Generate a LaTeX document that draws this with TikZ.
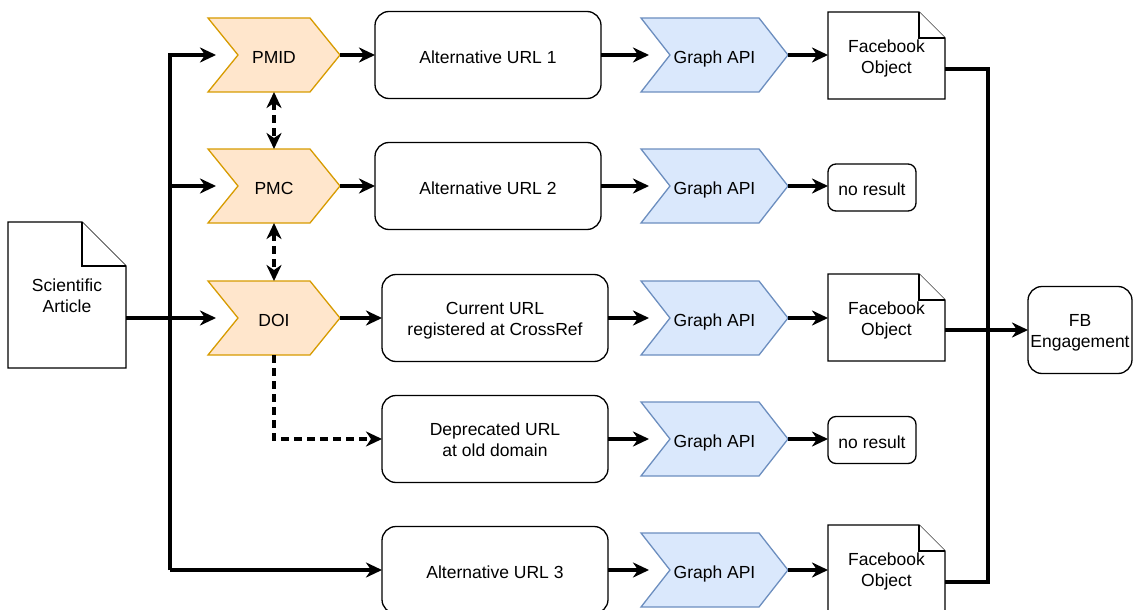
\documentclass[tikz,border=0pt]{standalone}
\usepackage{fontspec}
\setmainfont{Liberation Sans}
\usetikzlibrary{arrows.meta,backgrounds}
\definecolor{ofill}{HTML}{FFE6CC}
\definecolor{ostroke}{HTML}{D79B00}
\definecolor{bfill}{HTML}{DAE8FC}
\definecolor{bstroke}{HTML}{6C8EBF}
\newcommand{\fs}{\fontsize{17.5}{21}\selectfont}
\newcommand{\twolines}[2]{\raisebox{-4pt}[\dimexpr\height-2pt\relax][\depth]{\begin{tabular}{@{}c@{}}#1\\#2\end{tabular}}}
\newcommand{\chevfill}[3]{%
\begin{pgfonlayer}{background}
\draw[#3] (#1.north west) -- ([xshift=-#2pt]#1.north east) -- (#1.east) -- ([xshift=-#2pt]#1.south east) -- (#1.south west) -- ([xshift=#2pt]#1.west) -- cycle;
\end{pgfonlayer}}
\newcommand{\notefill}[2]{%
\begin{pgfonlayer}{background}
\draw[notest] (#1.north west) -- ([xshift=-#2pt]#1.north east) -- ([yshift=-#2pt]#1.north east) -- (#1.south east) -- (#1.south west) -- cycle;
\draw[notest] ([xshift=-#2pt]#1.north east) |- ([yshift=-#2pt]#1.north east);
\end{pgfonlayer}}
\begin{document}
\begin{tikzpicture}[x=1pt,y=-1pt,
  txt/.style={font=\fs, inner sep=0pt, outer sep=0pt,
    execute at begin node={\rule{0pt}{21pt}},
    execute at end node={\rule[-4.4pt]{0pt}{4.4pt}}},
  urlbox/.style={txt, draw, line width=1.3pt, rounded corners=14pt, minimum width=226pt, minimum height=87pt},
  smallbox/.style={txt, draw, line width=1.3pt, rounded corners=8pt, minimum width=88pt, minimum height=47pt},
  chevbox/.style={txt, minimum width=132pt, minimum height=74pt},
  apibox/.style={txt, minimum width=147pt, minimum height=74pt},
  notebox/.style={txt, minimum width=117pt, minimum height=87pt},
  notest/.style={draw=black, fill=white, line width=1.3pt, line join=miter},
  ochev/.style={draw=ostroke, fill=ofill, line width=1.3pt},
  bchev/.style={draw=bstroke, fill=bfill, line width=1.3pt},
  conn/.style={line width=3.3pt},
  arr/.style={conn, -{Stealth[length=16pt,width=15pt,inset=5pt]}},
  darr/.style={arr, dash pattern=on 8pt off 5pt},
  dbiarr/.style={conn, dash pattern=on 8pt off 5pt, {Stealth[length=16pt,width=15pt,inset=5pt]}-{Stealth[length=16pt,width=15pt,inset=5pt]}}
]
\useasboundingbox (0,0) rectangle (1136,610);

% Scientific article
\node[txt, minimum width=118pt, minimum height=146pt] (art) at (67,295) {\twolines{Scientific}{Article}};
\notefill{art}{44}

% identifiers
\node[chevbox] (pmid) at (274,55) {PMID};
\chevfill{pmid}{30}{ochev}
\node[chevbox] (pmc) at (274,186) {PMC};
\chevfill{pmc}{30}{ochev}
\node[chevbox] (doi) at (274,318) {DOI};
\chevfill{doi}{30}{ochev}

% URLs
\node[urlbox] (u1) at (488,55) {Alternative URL 1};
\node[urlbox] (u2) at (488,186) {Alternative URL 2};
\node[urlbox] (u3) at (495,318) {\twolines{Current URL}{registered at CrossRef}};
\node[urlbox] (u4) at (495,439) {\twolines{Deprecated URL}{at old domain}};
\node[urlbox] (u5) at (495,570) {Alternative URL 3};

% Graph API
\node[apibox] (g1) at (714.5,55) {Graph API};
\chevfill{g1}{29}{bchev}
\node[apibox] (g2) at (714.5,186) {Graph API};
\chevfill{g2}{29}{bchev}
\node[apibox] (g3) at (714.5,318) {Graph API};
\chevfill{g3}{29}{bchev}
\node[apibox] (g4) at (714.5,439) {Graph API};
\chevfill{g4}{29}{bchev}
\node[apibox] (g5) at (714.5,570) {Graph API};
\chevfill{g5}{29}{bchev}

% results
\node[notebox] (f1) at (886.5,55.5) {\twolines{Facebook}{Object}};
\notefill{f1}{26}
\node[smallbox] (n2) at (872,187.5) {no result};
\node[notebox] (f3) at (886.5,317.5) {\twolines{Facebook}{Object}};
\notefill{f3}{26}
\node[smallbox] (n4) at (872,440) {no result};
\node[notebox] (f5) at (886.5,568.5) {\twolines{Facebook}{Object}};
\notefill{f5}{26}

\node[txt, draw, line width=1.3pt, rounded corners=14pt, minimum width=104pt, minimum height=87pt] (fb) at (1080,330) {\twolines{FB}{Engagement}};

% trunk
\coordinate (t) at (170,318);
\coordinate (j) at (988,330);
\draw[arr] (art.east |- doi.west) -- ([xshift=8pt]doi.west);
\draw[arr, line join=miter] (t |- u5.west) |- ([xshift=8pt]pmid.west);
\draw[arr] (t |- u5.west) -- (u5.west);
\draw[arr] (t |- pmc.west) -- ([xshift=8pt]pmc.west);

% rows
\draw[arr] (pmid.east) -- (u1.west);
\draw[arr] (pmc.east) -- (u2.west);
\draw[arr] (doi.east) -- (u3.west);
\foreach \a/\b in {u1/g1,u2/g2,u3/g3,u4/g4,u5/g5}
  \draw[arr] (\a.east) -- ([xshift=8pt]\b.west);
\draw[arr] (g1.east) -- (f1.west |- g1.east);
\draw[arr] (g2.east) -- (n2.west |- g2.east);
\draw[arr] (g3.east) -- (f3.west |- g3.east);
\draw[arr] (g4.east) -- (n4.west |- g4.east);
\draw[arr] (g5.east) -- (f5.west |- g5.east);

% dashed
\draw[dbiarr] (pmid.south) -- (pmc.north);
\draw[dbiarr] (pmc.south) -- (doi.north);
\draw[darr, line join=miter] (doi.south) |- (u4.west);

% collection
\coordinate (o1) at ([yshift=-13.5pt]f1.east);
\coordinate (o3) at ([yshift=-12.5pt]f3.east);
\coordinate (o5) at ([yshift=-13.5pt]f5.east);
\draw[conn, line join=miter] (o1) -| (j |- o5) -- (o5);
\draw[arr] (o3) -- (fb.west |- o3);
\end{tikzpicture}
\end{document}
